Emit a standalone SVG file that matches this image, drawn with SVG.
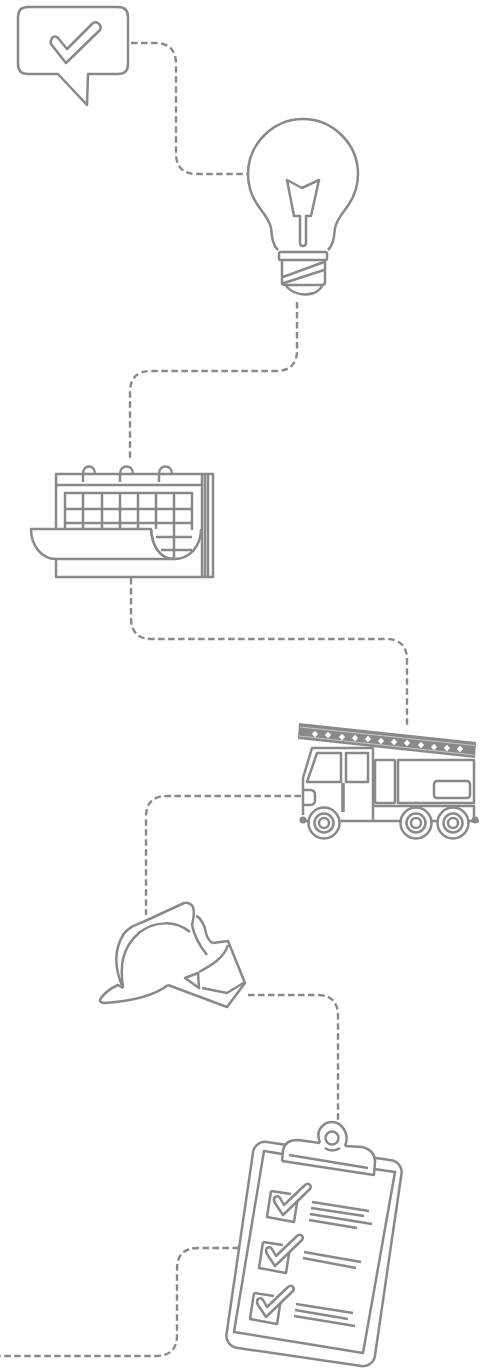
<svg xmlns="http://www.w3.org/2000/svg" xmlns:xlink="http://www.w3.org/1999/xlink" width="491" height="1371" viewBox="0 0 491 1371">
<style>
.s{fill:none;stroke:#88898b;stroke-width:2.5;stroke-linejoin:round;stroke-linecap:butt}
.w{fill:#fff;stroke:#88898b;stroke-width:2.5;stroke-linejoin:round}
.d{fill:none;stroke:#88898b;stroke-width:2.400;stroke-dasharray:6.500 3.500}
</style>
<defs>
<g id="tick">
<path class="w" d="M275,1203L283,1215L310,1189Q312,1186 309,1184Q307,1183 305,1185L284,1205L280,1198Q278,1195 275,1197Q273,1200 275,1203Z"/>
</g>
<g id="box">
<path class="s" d="M271,1191L267,1217L294,1222L298,1197M271,1191L291,1194"/>
</g>
<path id="dia" d="M0,-3.200L3.200,0L0,3.200L-3.200,0Z" fill="#fff"/>
<g id="wheel"><circle class="w" r="15.500"/><circle class="s" r="9.500"/><circle class="s" r="5"/></g>
</defs>
<rect width="491" height="1371" fill="#fff"/>
<g id="connectors">
<path class="d" d="M131,43H155Q176,43 176,64V153Q176,174 197,174H248"/>
<path class="d" d="M297,302V350Q297,371 276,371H151Q130,371 130,392V460"/>
<path class="d" d="M131,578V618Q131,639 152,639H386Q407,639 407,660V728"/>
<path class="d" d="M301,796H167Q146,796 146,817V915"/>
<path class="d" d="M248,995H317Q338,995 338,1016V1120"/>
<path class="d" d="M239,1248H198Q177,1248 177,1269V1335Q177,1356 156,1356H0"/>
</g>
<g id="speech-bubble">
<path class="s" d="M28,7H118Q128,7 128,17V64Q128,74 118,74H88L87,105L58,74H28Q18,74 18,64V17Q18,7 28,7Z"/>
<path class="s" d="M51,44L66,63L100,30Q102,26 98,23Q95,21 92,24L67,49L58,38Q55,35 52,38Q50,41 51,44Z"/>
</g>
<g id="bulb">
<path class="s" d="M278,250C272,244 272,236 271,228C269,218 262,212 257,204C251,195 248,185 248,174C248,144 273,119 303,119C333,119 358,144 358,174C358,185 355,195 349,204C344,212 337,218 335,228C334,236 334,244 328,250"/>
<rect class="s" x="279" y="252" width="48" height="8" rx="1.500"/>
<path class="s" d="M282,260V282Q282,285 285,285H322Q325,285 325,282V260"/>
<path class="s" d="M283,277L324,262M281,284L324,270"/>
<path class="s" d="M286,286Q297,298 314,293Q320,290 322,286"/>
<path class="s" d="M287,180L302,188L319,180L311,216H306V243Q306,246 303,246Q300,246 300,243V216H294Z"/>
</g>
<g id="calendar">
<rect class="s" x="56" y="474" width="157" height="103"/>
<path class="s" d="M56,485H202M202,474V577M205,474V577M208,474V577"/>
<path class="s" d="M83,482V474C83,464 95,464 95,474M120,482V474C120,464 133,464 133,474M159,482V474C159,464 172,464 172,474"/>
<path class="s" d="M65,529V493H192V530M65,509H192M65,523H192M156,537H192M161,550H192M83,493V529M102,493V529M120,493V529M138,493V529M156,493V529M174,493V559"/>
<path class="w" d="M31,529H151C152,546 160,559 174,559H56C42,559 31,546 31,529Z"/>
<path class="s" d="M151,529C152,546 160,559 174,559C190,559 201,546 201,529"/>
</g>
<g id="fire-truck">
<path fill="#88898b" d="M299,723L476,742L475,758L298,739Z"/>
<path fill="none" stroke="#d5d5d6" stroke-width=".8" d="M300,727L475,745.500M299,736L474,755"/>
<use xlink:href="#dia" x="315" y="734"/><use xlink:href="#dia" x="328" y="735"/><use xlink:href="#dia" x="342" y="737"/><use xlink:href="#dia" x="355" y="738"/><use xlink:href="#dia" x="368" y="739"/><use xlink:href="#dia" x="381" y="741"/><use xlink:href="#dia" x="394" y="742"/><use xlink:href="#dia" x="407" y="743"/><use xlink:href="#dia" x="421" y="745"/><use xlink:href="#dia" x="434" y="747"/><use xlink:href="#dia" x="447" y="748"/><use xlink:href="#dia" x="460" y="749"/>
<path class="s" d="M303,815V778L312,748H373V821M317,753H341V782H307ZM346,753H368V782H346Z"/>
<path class="s" style="stroke-width:3.500" d="M343,783V812"/>
<path class="s" d="M303,790H310Q315,790 315,795V800Q315,805 310,805H303"/>
<rect class="s" x="375" y="760" width="20" height="43" rx="1"/>
<path class="s" d="M398,760H474V803H398Z"/>
<rect class="s" x="434" y="781" width="36" height="17" rx="3"/>
<path class="s" d="M373,806H474V820M303,821H479"/>
<circle cx="303" cy="820" r="3.500" fill="#88898b"/><circle cx="475" cy="820" r="3.500" fill="#88898b"/>
<use xlink:href="#wheel" x="324" y="823"/><use xlink:href="#wheel" x="416" y="823"/><use xlink:href="#wheel" x="453" y="823"/>
</g>
<g id="helmet">
<path class="s" d="M123,988C115,970 113,952 123,935C128,927 136,925 143,922L184,903Q190,902 193,907Q195,913 192,925Q195,940 207,955"/>
<path class="s" d="M123,987C120,967 121,948 140,932C155,921 175,920 190,932"/>
<path class="s" d="M196,916C201,918 205,926 206,933Q208,941 213,943L228,941L245,983L227,1007L168,985"/>
<path class="s" d="M168,985C155,995 135,1001 105,1003Q98,1003 101,998Q107,990 118,985L123,988"/>
<path class="s" d="M228,945C224,958 212,965 199,972M202,988L227,993L245,982"/>
<path class="s" d="M185,978L198,973L199,988Z"/>
</g>
<g id="clipboard">
<rect class="s" x="239" y="1150" width="150" height="208" rx="12" transform="rotate(8.300 314 1254)"/>
<path class="s" d="M282,1154L264,1151L234,1332L363,1353L395,1172L374,1169"/>
<path fill="#fff" d="M282,1161L283,1150Q285,1140 298,1140L320,1143L345,1146L362,1147Q375,1150 375,1162L374,1175Z"/>
<path class="s" d="M282,1161L283,1150Q285,1140 298,1140L320,1143M345,1146L362,1147Q375,1150 375,1162L374,1175L282,1161"/>
<path class="s" d="M320,1143C314,1128 326,1122 332,1122C342,1122 350,1134 345,1146"/>
<circle class="s" cx="332" cy="1138" r="6.500"/>
<path class="s" d="M325,1148Q332,1153 340,1148M289,1155L368,1168"/>
<use xlink:href="#box"/><use xlink:href="#tick"/>
<g transform="translate(-8,51)"><use xlink:href="#box"/><use xlink:href="#tick"/></g>
<g transform="translate(-17,102)"><use xlink:href="#box"/><use xlink:href="#tick"/></g>
<path class="s" d="M312,1202L369,1211M311,1208L364,1216M310,1214L372,1224M309,1220L357,1228M304,1252L361,1262M303,1258L356,1268M296,1304L353,1313M295,1310L348,1319M294,1316L355,1326"/>
</g>
</svg>
